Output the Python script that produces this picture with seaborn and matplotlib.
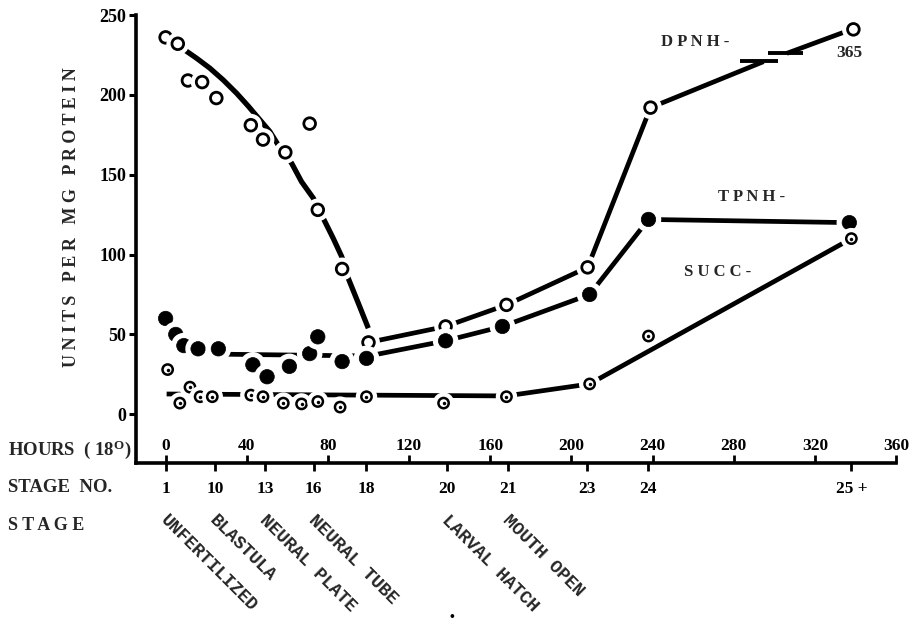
import numpy as np
import pandas as pd
import matplotlib
matplotlib.use("Agg")
import matplotlib.pyplot as plt
import matplotlib.patheffects as pe
from matplotlib.ticker import FixedLocator, FixedFormatter, StrMethodFormatter
import seaborn as sns

# ---------------- data ----------------
dpnh_hours = [0, 6, 11, 18, 25, 42, 48, 59, 71, 75, 87, 100, 138, 168, 208, 239, 339]
dpnh_values = [236, 232, 209, 208, 198, 181, 172, 164, 182, 128, 91, 45, 55, 68.5, 92, 192, 241]
tpnh_hours = [0, 5, 9, 16, 26, 43, 50, 61, 71, 75, 87, 99, 138, 166, 209, 238, 337]
tpnh_values = [60, 50, 43, 41, 41, 31, 23.5, 30, 38, 48.5, 33, 35, 46, 55, 75, 122, 120]
succ_hours = [1, 7, 12, 17, 23, 42, 48, 58, 67, 75, 86, 99, 137, 168, 209, 238, 338]
succ_values = [28, 7, 17, 11, 11, 12, 11, 7, 6.5, 8, 4.5, 11, 7, 11, 19, 49, 110]

# hand-drawn trend lines
dpnh_curve_hours = [9.5, 15.3, 21.8, 28.4, 35, 40.7, 46.5, 51.4, 55.5, 62.1, 67,
                    72.8, 77.7, 82.6, 86.8, 90, 95, 99.9]
dpnh_curve_values = [228, 222.9, 216.7, 209.3, 201, 193, 184.3, 177, 168.6, 157.2, 145.6,
                     135.3, 122.7, 110.2, 98.7, 85.2, 69.5, 53.9]
dpnh_upper_hours = [100, 138, 168, 208, 239, 294.7]
dpnh_upper_values = [45, 55, 68.5, 92, 192, 220.8]
dpnh_tail_hours = [306.2, 336]
dpnh_tail_values = [226, 240]
break_low_hours = [283.2, 302]
break_low_values = [221.2, 221.2]
break_high_hours = [297, 314]
break_high_values = [226.5, 226.5]
tpnh_line_hours = [30, 100, 138, 166, 209, 238, 337]
tpnh_line_values = [37.6, 36.5, 46, 55, 75, 122, 120]
succ_line_hours = [0.5, 168, 209, 338]
succ_line_values = [12.7, 11.5, 19, 110]

hour_ticks = [0, 40, 80, 120, 160, 200, 240, 280, 320, 360]
y_ticks = [0, 50, 100, 150, 200, 250]
stage_hours = [0, 24.3, 49, 73, 99, 138.6, 168.6, 207.6, 238, 338]
stage_numbers = ['1', '10', '13', '16', '18', '20', '21', '23', '24', '25 +']
stage_names = ['UNFERTILIZED', 'BLASTULA', 'NEURAL PLATE', 'NEURAL TUBE', 'LARVAL HATCH', 'MOUTH OPEN']
stage_name_hours = [0, 24.3, 49, 73, 138.6, 168.6]

# ---------------- style ----------------
sns.set_theme(style="white")
plt.rcParams['font.family'] = ['Liberation Serif', 'DejaVu Serif']
plt.rcParams['font.weight'] = 'bold'
plt.rcParams['mathtext.fontset'] = 'custom'
plt.rcParams['mathtext.rm'] = 'Liberation Serif:bold'
plt.rcParams['mathtext.it'] = 'Liberation Serif:bold'
plt.rcParams['mathtext.bf'] = 'Liberation Serif:bold'

W, H = 917, 631
fig = plt.figure(figsize=(W / 100, H / 100), dpi=100)
L, R, T, B = 136, 896, 15, 463
ax = fig.add_axes([L / W, 1 - B / H, (R - L) / W, (B - T) / H])
ax.set_xlim(-14.6, 360)
ax.set_ylim(-30.5, 250)

LW = 3.4
halo = [pe.withStroke(linewidth=8, foreground='white')]

def line(xs, ys, lw=LW):
    sns.lineplot(x=xs, y=ys, ax=ax, estimator=None, sort=False, color='black',
                 lw=lw, solid_capstyle='butt', solid_joinstyle='round')

line(dpnh_curve_hours, dpnh_curve_values, 3.8)
line(dpnh_upper_hours, dpnh_upper_values)
line(dpnh_tail_hours, dpnh_tail_values)
line(break_low_hours, break_low_values, 2.8)
line(break_high_hours, break_high_values, 2.8)
line(tpnh_line_hours, tpnh_line_values)
line(succ_line_hours, succ_line_values)

def markers(xs, ys, **kw):
    sns.lineplot(x=xs, y=ys, ax=ax, estimator=None, sort=False, linestyle='none',
                 marker='o', color='black', **kw)
    ax.lines[-1].set_path_effects(halo)

markers(dpnh_hours, dpnh_values, ms=8.4, mfc='white', mec='black', mew=2.0)
markers(tpnh_hours, tpnh_values, ms=10.4, mfc='black', mec='black', mew=0.5)
markers(succ_hours, succ_values, ms=7.4, mfc='white', mec='black', mew=1.8)
sns.lineplot(x=succ_hours, y=succ_values, ax=ax, estimator=None, sort=False,
             linestyle='none', marker='o', ms=2.5, mfc='black', mec='black', mew=0)

# ---------------- axes ----------------
for s in ['top', 'right']:
    ax.spines[s].set_visible(False)
for s in ['left', 'bottom']:
    ax.spines[s].set_linewidth(2.6)
    ax.spines[s].set_color('black')

ax.yaxis.set_major_locator(FixedLocator(y_ticks))
ax.yaxis.set_major_formatter(FixedFormatter([str(v) for v in y_ticks]))
ax.tick_params(axis='y', direction='out', length=5, width=2.2, pad=2,
               labelsize=13, colors='black', left=True)

# stage numbers: major ticks pointing down
ax.xaxis.remove_overlapping_locs = False
ax.xaxis.set_major_locator(FixedLocator(stage_hours))
ax.xaxis.set_major_formatter(FixedFormatter(stage_numbers))
ax.tick_params(axis='x', which='major', direction='out', length=6, width=2,
               pad=7, labelsize=12.5, colors='black', bottom=True)
# hours: minor ticks pointing up, labels above the axis line
ax.xaxis.set_minor_locator(FixedLocator(hour_ticks))
ax.xaxis.set_minor_formatter(StrMethodFormatter('{x:.0f}'))
ax.tick_params(axis='x', which='minor', direction='in', length=6, width=2,
               pad=-18, labelsize=12.5, colors='black', bottom=True)
for lab in ax.get_xticklabels(which='both') + ax.get_yticklabels():
    lab.set_fontweight('bold')
ax.set_xlabel('')
ax.set_ylabel('')

# ---------------- text ----------------
def ftext(x, y, s, **kw):
    fig.text(x / W, 1 - y / H, s, **kw)

ftext(72, 217, 'U N I T S   P E R   M G   P R O T E I N', rotation=90,
      ha='center', va='center', fontsize=13, fontweight='bold')
ftext(8, 455, 'HOURS  ( 18$^{\\mathrm{O}}$)', ha='left', va='baseline',
      fontsize=13.5, fontweight='bold')
ftext(8, 492, 'STAGE  NO.', ha='left', va='baseline', fontsize=13.5, fontweight='bold')
ftext(8, 530, 'S T A G E', ha='left', va='baseline', fontsize=13, fontweight='bold')

ax.text(261, 233, 'D P N H -', ha='center', va='center', fontsize=12, fontweight='bold')
ax.text(289, 136, 'T P N H -', ha='center', va='center', fontsize=12, fontweight='bold')
ax.text(272, 89, 'S U C C -', ha='center', va='center', fontsize=12, fontweight='bold')
ax.text(337, 226.5, '365', ha='center', va='center', fontsize=12.5, fontweight='bold')

for name, h in zip(stage_names, stage_name_hours):
    ax.annotate(name, xy=(h, 0), xycoords=('data', 'axes fraction'),
                xytext=(2.5, -35), textcoords='offset points',
                rotation=-45, rotation_mode='anchor', ha='left', va='top',
                fontsize=13, fontweight='bold',
                family=['Liberation Mono', 'DejaVu Sans Mono'])
ax.annotate('\u2022', xy=(138.6, 0), xycoords=('data', 'axes fraction'),
            xytext=(4, -111), textcoords='offset points', ha='center', va='center',
            fontsize=10, color='black')

fig.savefig('out.png', dpi=100, facecolor='white')
